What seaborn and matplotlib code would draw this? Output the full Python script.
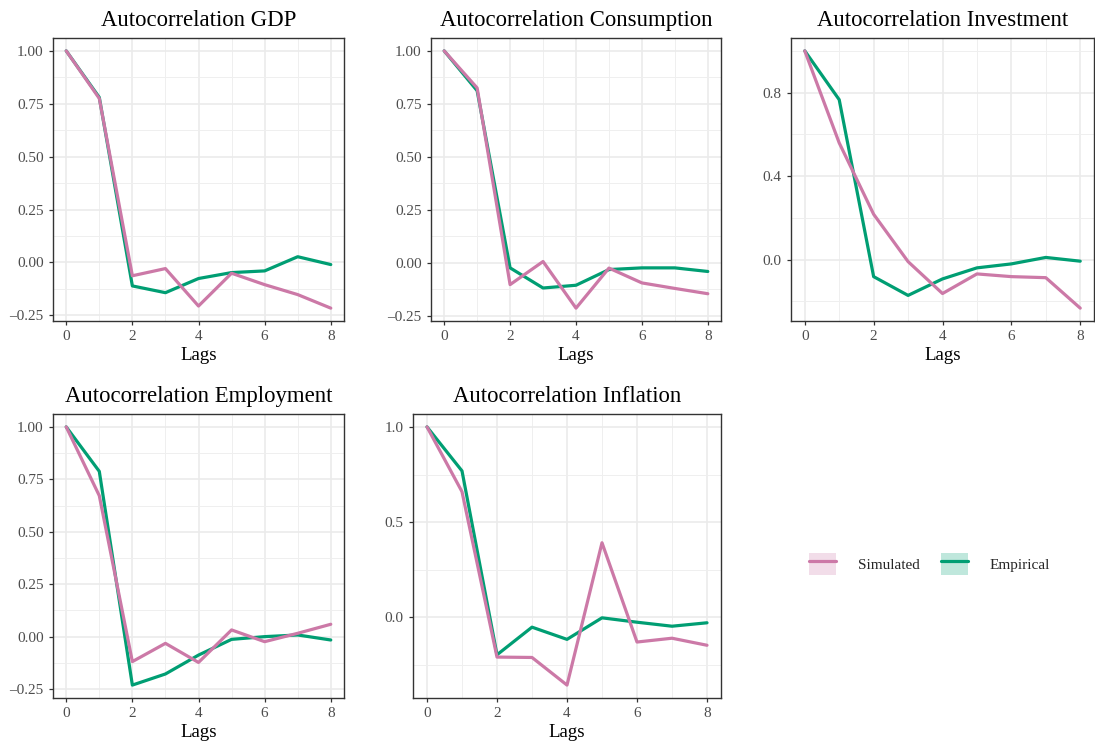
import numpy as np
import pandas as pd
import matplotlib
matplotlib.use("Agg")
import matplotlib.pyplot as plt
import seaborn as sns
from matplotlib.lines import Line2D
from matplotlib.patches import Patch
from matplotlib.legend_handler import HandlerTuple
from matplotlib.ticker import FixedLocator, FuncFormatter

# ---------------- data ----------------
lags = [0, 1, 2, 3, 4, 5, 6, 7, 8]

titles = ["Autocorrelation GDP", "Autocorrelation Consumption", "Autocorrelation Investment",
          "Autocorrelation Employment", "Autocorrelation Inflation"]

gdp_sim = [1.00, 0.775, -0.063, -0.029, -0.206, -0.051, -0.105, -0.152, -0.216]
gdp_emp = [1.00, 0.780, -0.111, -0.143, -0.076, -0.048, -0.040, 0.027, -0.010]

cons_sim = [1.00, 0.825, -0.103, 0.006, -0.214, -0.025, -0.095, -0.121, -0.146]
cons_emp = [1.00, 0.812, -0.024, -0.119, -0.106, -0.032, -0.024, -0.024, -0.041]

inv_sim = [1.00, 0.559, 0.217, -0.010, -0.163, -0.069, -0.082, -0.087, -0.233]
inv_emp = [1.00, 0.766, -0.082, -0.172, -0.093, -0.040, -0.021, 0.010, -0.008]

emp_sim = [1.00, 0.672, -0.119, -0.032, -0.123, 0.032, -0.024, 0.016, 0.059]
emp_emp = [1.00, 0.788, -0.231, -0.178, -0.088, -0.013, 0.000, 0.008, -0.016]

infl_sim = [1.00, 0.660, -0.208, -0.210, -0.355, 0.392, -0.129, -0.109, -0.146]
infl_emp = [1.00, 0.769, -0.196, -0.051, -0.115, -0.002, -0.025, -0.046, -0.028]

series_names = ["Simulated", "Empirical"]
colors = {"Simulated": "#CC79A7", "Empirical": "#009E73"}
key_fill = {"Simulated": "#F2DDE9", "Empirical": "#BFE7DC"}

panels = [
    (titles[0], gdp_sim, gdp_emp, [-0.25, 0, 0.25, 0.5, 0.75, 1.0], [-0.125, 0.125, 0.375, 0.625, 0.875], 2),
    (titles[1], cons_sim, cons_emp, [-0.25, 0, 0.25, 0.5, 0.75, 1.0], [-0.125, 0.125, 0.375, 0.625, 0.875], 2),
    (titles[2], inv_sim, inv_emp, [0.0, 0.4, 0.8], [-0.2, 0.2, 0.6, 1.0], 1),
    (titles[3], emp_sim, emp_emp, [-0.25, 0, 0.25, 0.5, 0.75, 1.0], [-0.125, 0.125, 0.375, 0.625, 0.875], 2),
    (titles[4], infl_sim, infl_emp, [0.0, 0.5, 1.0], [-0.25, 0.25, 0.75], 1),
]

# panel boxes in pixels: left, right, top, bottom
W, H = 1095, 748
boxes = [
    (53, 344, 38, 321),
    (431, 721, 38, 321),
    (791, 1094, 38, 321),
    (53, 344, 414, 698),
    (413, 721, 414, 698),
]


def make_fmt(nd):
    def f(v, pos):
        s = f"{v:.{nd}f}"
        if s.startswith("-"):
            s = "\u2013" + s[1:]
        return s
    return FuncFormatter(f)


sns.set_theme(style="white")
plt.rcParams["font.family"] = ["Liberation Serif", "DejaVu Serif"]

fig = plt.figure(figsize=(W / 100, H / 100), dpi=100)
fig.patch.set_facecolor("white")

for (title, sim, emp, yt, ymin, nd), (l, r, t, b) in zip(panels, boxes):
    ax = fig.add_axes([l / W, 1 - b / H, (r - l) / W, (b - t) / H])
    df = pd.DataFrame({
        "Lags": lags * 2,
        "value": list(emp) + list(sim),
        "series": ["Empirical"] * len(lags) + ["Simulated"] * len(lags),
    })
    sns.lineplot(data=df, x="Lags", y="value", hue="series",
                 hue_order=["Empirical", "Simulated"], palette=colors,
                 linewidth=2.3, ax=ax, legend=False)
    allv = list(sim) + list(emp)
    lo, hi = min(allv), max(allv)
    pad = 0.05 * (hi - lo)
    ax.set_ylim(lo - pad, hi + pad)
    ax.set_xlim(-0.4, 8.4)
    ax.xaxis.set_major_locator(FixedLocator([0, 2, 4, 6, 8]))
    ax.xaxis.set_minor_locator(FixedLocator([1, 3, 5, 7]))
    ax.yaxis.set_major_locator(FixedLocator(yt))
    ax.yaxis.set_minor_locator(FixedLocator(ymin))
    ax.yaxis.set_major_formatter(make_fmt(nd))
    ax.grid(which="major", color="#EBEBEB", linewidth=1.2)
    ax.grid(which="minor", color="#EFEFEF", linewidth=0.7)
    ax.set_axisbelow(True)
    for s in ax.spines.values():
        s.set_color("#333333")
        s.set_linewidth(1.0)
    ax.tick_params(which="major", direction="out", length=3.2, width=0.9,
                   color="#333333", labelcolor="#4D4D4D", labelsize=11, pad=3.5,
                   bottom=True, left=True)
    ax.tick_params(which="minor", length=0)
    ax.set_ylabel("")
    ax.set_xlabel("Lags", fontsize=13.6, color="black", labelpad=2.5)
    ax.set_title(title, fontsize=16.4, color="black", pad=8.5)

handles = []
for name in series_names:
    handles.append((Patch(facecolor=key_fill[name], edgecolor="none"),
                    Line2D([0], [0], color=colors[name], linewidth=2.3)))
fig.legend(handles, series_names, handler_map={tuple: HandlerTuple(ndivide=1, pad=0)},
           loc="center", bbox_to_anchor=(929.5 / W, 1 - 564 / H), ncol=2, frameon=False,
           fontsize=11, handlelength=1.8, handleheight=1.8, handletextpad=1.4,
           columnspacing=1.4, borderpad=0)

fig.savefig("out.png", dpi=100, facecolor="white")
